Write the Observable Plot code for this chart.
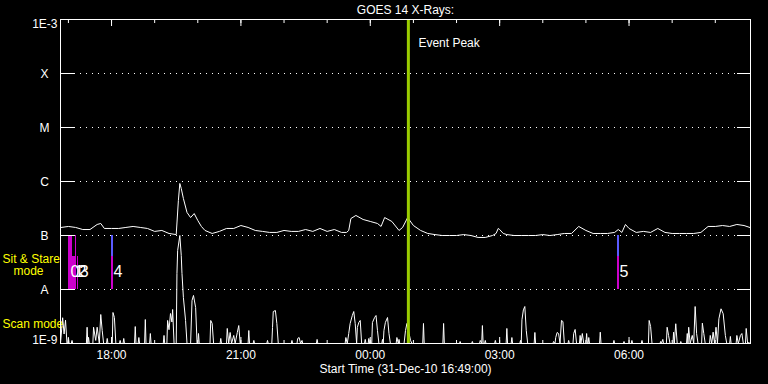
<!DOCTYPE html>
<html><head><meta charset="utf-8">
<script src="https://cdn.jsdelivr.net/npm/d3@7"></script>
<script src="https://cdn.jsdelivr.net/npm/@observablehq/plot@0.6"></script>
<style>
html,body{margin:0;padding:0;background:#000;overflow:hidden;}
</style></head><body><div id="chart"></div>
<script>
const B = 1e-9;
const startTime = "16:49", endTime = "08:49";
const titleText = "GOES 14 X-Rays:";
const captionText = "Start Time (31-Dec-10 16:49:00)";
const xTickLabels = ["18:00","21:00","00:00","03:00","06:00"];
const levelValues = [1e-4, 1e-5, 1e-6, 1e-7, 1e-8];
const levelLabels = ["X","M","C","B","A"];
const endValues = [1e-3, 1e-9];
const endLabels = ["1E-3","1E-9"];
const eventPeak = "00:53";
const eventLabel = "Event Peak";

// GOES long-channel flux [time, W/m^2]
const goesSeries = [
["16:50",1.41e-7],["17:00",1.47e-7],["17:10",1.41e-7],["17:20",1.29e-7],["17:30",1.29e-7],
["17:40",1.60e-7],["17:45",1.67e-7],["17:50",1.35e-7],["18:00",1.35e-7],["18:10",1.35e-7],
["18:20",1.41e-7],["18:30",1.47e-7],["18:40",1.41e-7],["18:50",1.35e-7],["19:00",1.19e-7],
["19:10",1.24e-7],["19:20",1.09e-7],["19:30",1.04e-7],["19:33",4.45e-7],["19:35",9.2e-7],
["19:37",7.41e-7],["19:40",4.84e-7],["19:45",2.67e-7],["19:50",2.15e-7],["19:55",2.55e-7],
["20:00",1.90e-7],["20:05",1.47e-7],["20:10",1.24e-7],["20:20",1.09e-7],["20:30",1.19e-7],
["20:40",1.35e-7],["20:50",1.35e-7],["21:00",1.53e-7],["21:10",1.41e-7],["21:20",1.24e-7],
["21:30",1.19e-7],["21:40",1.14e-7],["21:50",1.14e-7],["22:00",1.24e-7],["22:10",1.19e-7],
["22:20",1.19e-7],["22:30",1.29e-7],["22:40",1.19e-7],["22:50",1.35e-7],["23:00",1.19e-7],
["23:10",1.29e-7],["23:20",1.14e-7],["23:27",1.14e-7],["23:30",1.24e-7],["23:33",2.06e-7],
["23:40",2.35e-7],["23:50",1.98e-7],["00:00",1.82e-7],["00:10",1.67e-7],["00:15",1.47e-7],
["00:20",2.15e-7],["00:30",1.82e-7],["00:40",1.24e-7],["00:45",1.41e-7],["00:52",2.15e-7],
["01:00",1.53e-7],["01:10",1.24e-7],["01:20",1.09e-7],["01:30",1.04e-7],["01:40",1.00e-7],
["01:50",1.00e-7],["02:00",1.00e-7],["02:10",1.04e-7],["02:20",1.00e-7],["02:30",9.2e-8],
["02:40",9.2e-8],["02:50",1.00e-7],["02:55",1.09e-7],["02:58",1.35e-7],["03:00",1.29e-7],
["03:05",1.09e-7],["03:10",1.04e-7],["03:20",1.00e-7],["03:30",1.00e-7],["03:40",1.00e-7],
["03:50",1.00e-7],["04:00",1.04e-7],["04:10",1.00e-7],["04:20",1.04e-7],["04:30",1.09e-7],
["04:40",1.09e-7],["04:50",1.47e-7],["05:00",1.24e-7],["05:10",1.09e-7],["05:20",1.09e-7],
["05:30",1.09e-7],["05:40",1.14e-7],["05:45",1.29e-7],["05:50",1.14e-7],["05:55",1.60e-7],
["06:00",1.35e-7],["06:10",1.14e-7],["06:20",1.19e-7],["06:30",1.14e-7],["06:40",1.35e-7],
["06:50",1.14e-7],["07:00",1.09e-7],["07:10",1.09e-7],["07:20",1.09e-7],["07:30",1.09e-7],
["07:40",1.14e-7],["07:50",1.47e-7],["08:00",1.47e-7],["08:10",1.53e-7],["08:20",1.47e-7],
["08:30",1.60e-7],["08:40",1.53e-7],["08:48",1.41e-7]
];

// Scan mode trace [time, level]
const scanSeries = [
["16:49",B],["16:52",3.0e-9],["16:54",1.5e-9],["16:56",2.7e-9],["16:58",B],
["16:59",B],["17:00",1.3e-9],["17:01",B],["17:04",B],["17:05",1.14e-9],["17:06",B],
["17:25",B],["17:26",2.0e-9],["17:27",B],["17:28",1.3e-9],["17:29",B],
["17:34",B],["17:35",2.0e-9],["17:38",1.14e-9],["17:40",2.0e-9],["17:43",B],["17:45",3.44e-9],["17:47",1.74e-9],["17:49",B],
["17:53",B],["17:54",1.24e-9],["17:55",B],
["18:01",B],["18:02",3.75e-9],["18:04",3.03e-9],["18:06",B],
["18:11",B],["18:12",1.14e-9],["18:13",B],["18:16",B],["18:17",1.24e-9],["18:18",B],
["18:32",B],["18:33",2.06e-9],["18:34",B],["18:37",B],["18:38",1.29e-9],["18:39",B],
["18:46",B],["18:47",2.78e-9],["18:48",B],["18:53",B],["18:54",1.53e-9],["18:55",B],
["19:12",B],["19:13",1.41e-9],["19:14",B],
["19:17",B],["19:18",2.67e-9],["19:20",1.8e-9],["19:22",3.59e-9],["19:24",2.5e-9],["19:25",4.26e-9],["19:27",B],
["19:30",B],["19:31",1.98e-8],["19:32",5.27e-8],["19:35",1.0e-7],["19:37",4.26e-8],["19:38",1.98e-8],["19:40",7.1e-9],["19:43",2.67e-9],["19:45",B],
["19:50",B],["19:52",6.26e-9],["19:54",7.76e-9],["19:57",4.64e-9],["19:59",B],
["20:00",B],["20:01",1.53e-9],["20:02",B],
["20:17",B],["20:18",2.67e-9],["20:20",2.35e-9],["20:22",B],
["20:31",B],["20:32",1.24e-9],["20:33",B],
["20:40",B],["20:41",1.9e-9],["20:43",B],["20:45",1.6e-9],["20:47",B],["20:50",1.41e-9],["20:52",B],["20:55",1.6e-9],["20:57",2.15e-9],["20:59",B],
["21:10",B],["21:11",1.74e-9],["21:12",B],["21:17",B],["21:18",1.14e-9],["21:19",B],
["21:36",B],["21:37",1.14e-9],["21:38",B],
["21:43",B],["21:44",1.98e-9],["21:45",3.91e-9],["21:48",4.08e-9],["21:50",2.35e-9],["21:52",B],
["22:10",B],["22:11",1.14e-9],["22:12",B],
["22:18",B],["22:19",1.24e-9],["22:21",1.29e-9],["22:23",B],["22:25",1.14e-9],["22:26",B],
["22:45",B],["22:46",1.19e-9],["22:47",B],
["23:25",B],["23:26",1.29e-9],["23:28",B],["23:30",1.53e-9],["23:32",2.35e-9],["23:35",3.3e-9],["23:37",3.91e-9],["23:39",2.35e-9],["23:41",B],["23:42",1.98e-9],["23:44",2.45e-9],["23:46",2.67e-9],["23:48",B],
["23:52",B],["23:53",1.19e-9],["23:54",B],["23:57",B],["23:58",1.24e-9],["23:59",B],
["00:02",B],["00:03",2.45e-9],["00:06",3.03e-9],["00:08",3.3e-9],["00:10",1.74e-9],["00:12",B],
["00:16",B],["00:17",1.19e-9],["00:18",B],["00:19",1.74e-9],["00:21",2.45e-9],["00:24",3.03e-9],["00:26",1.53e-9],["00:28",B],
["00:36",B],["00:37",1.29e-9],["00:39",B],["00:40",1.19e-9],["00:41",B],
["00:47",B],["00:49",1.74e-9],["00:51",2.35e-9],["00:54",1.53e-9],["00:56",1.14e-9],["00:58",B],
["01:13",B],["01:14",2.35e-9],["01:15",B],["01:41",B],["01:42",2.35e-9],["01:43",B],
["02:04",B],["02:05",1.09e-9],["02:06",B],["02:21",B],["02:22",1.09e-9],["02:23",B],
["02:32",B],["02:33",1.14e-9],["02:35",B],["02:36",2.15e-9],["02:37",B],["02:39",B],["02:40",1.14e-9],["02:41",B],
["02:53",B],["02:54",1.14e-9],["02:55",B],
["03:09",B],["03:10",1.9e-9],["03:11",B],["03:16",B],["03:17",1.29e-9],["03:18",B],
["03:28",B],["03:29",1.14e-9],["03:30",B],["03:31",2.75e-9],["03:33",4.2e-9],["03:35",4.84e-9],["03:37",1.74e-9],["03:39",B],
["03:48",B],["03:49",1.6e-9],["03:50",B],
["04:14",B],["04:15",1.09e-9],["04:17",B],["04:18",1.29e-9],["04:20",1.6e-9],["04:22",1.53e-9],["04:24",B],["04:26",2.67e-9],["04:28",2.55e-9],["04:30",B],
["04:35",B],["04:36",1.14e-9],["04:37",B],
["04:42",B],["04:43",1.53e-9],["04:45",1.82e-9],["04:47",B],
["04:51",B],["04:52",1.41e-9],["04:53",B],["04:55",1.53e-9],["04:57",B],
["05:00",B],["05:01",1.53e-9],["05:02",B],["05:03",B],["05:04",1.29e-9],["05:05",B],
["05:19",B],["05:20",1.62e-9],["05:21",B],["05:38",B],["05:39",1.14e-9],["05:40",B],
["05:52",B],["05:53",1.09e-9],["05:54",B],["06:03",B],["06:04",1.14e-9],["06:05",B],
["06:17",B],["06:18",1.14e-9],["06:19",B],
["06:27",B],["06:28",2.67e-9],["06:30",2.06e-9],["06:32",B],
["06:43",B],["06:44",1.09e-9],["06:45",B],["06:47",1.19e-9],["06:48",B],
["06:52",B],["06:53",2.0e-9],["06:55",1.41e-9],["06:57",B],
["07:01",B],["07:02",1.62e-9],["07:03",B],["07:05",2.32e-9],["07:07",B],
["07:11",B],["07:12",1.09e-9],["07:13",B],
["07:20",B],["07:21",1.53e-9],["07:22",B],["07:23",2.0e-9],["07:25",B],["07:28",1.41e-9],["07:30",B],["07:32",4.84e-9],["07:34",1.53e-9],["07:36",B],
["07:41",B],["07:42",2.38e-9],["07:44",1.53e-9],["07:46",B],
["07:52",B],["07:53",1.41e-9],["07:55",B],["07:57",1.62e-9],["07:59",B],["08:01",2.0e-9],["08:03",B],["08:05",2.87e-9],["08:08",4.39e-9],["08:11",3.55e-9],["08:14",1.41e-9],["08:16",B],
["08:20",B],["08:21",1.35e-9],["08:22",B],
["08:29",B],["08:30",1.41e-9],["08:32",B],["08:35",1.41e-9],["08:37",1.53e-9],["08:39",B],["08:42",B],["08:43",1.9e-9],["08:45",B],["08:46",1.04e-9],["08:49",B]
];

// Sit & Stare observations
const ssLabel = ["0","1","2","3","4","5"];
const ssStart = ["17:00","17:06","17:10","17:13","18:00","05:44"];
const ssEnd   = ["17:05","17:10","17:11","17:14","18:03","05:47"];
const ssUpperColor = ["#cc00cc", null, "#cc00cc", null, "#5a5aff", "#5a5aff"];
const ssLowerColor = ["#cc00cc","#cc00cc","#cc00cc","#cc00cc","#cc00cc","#cc00cc"];
const ssBandEdges = [1e-8, 4.1e-8, 1e-7];

const parseT = s => {
  const [h, m] = s.split(":").map(Number);
  return h >= 16 ? new Date(Date.UTC(2010, 11, 31, h, m)) : new Date(Date.UTC(2011, 0, 1, h, m));
};

const t0 = parseT(startTime), t1 = parseT(endTime);
const hourTicks = d3.utcHour.range(t0, t1);
const majorTicks = xTickLabels.map(parseT);

const ssRects = [];
ssLabel.forEach((l, i) => {
  ssRects.push({x1: parseT(ssStart[i]), x2: parseT(ssEnd[i]), y1: ssBandEdges[0], y2: ssBandEdges[1], fill: ssLowerColor[i]});
  if (ssUpperColor[i]) ssRects.push({x1: parseT(ssStart[i]), x2: parseT(ssEnd[i]), y1: ssBandEdges[1], y2: ssBandEdges[2], fill: ssUpperColor[i]});
});
const ssLabelLevel = Math.sqrt(ssBandEdges[0] * ssBandEdges[1]);
const ssModeLevel = Math.sqrt(1e-7 * 1e-8);
const scanModeLevel = Math.sqrt(1e-8 * 1e-9);

const font = "'Liberation Sans', Arial, sans-serif";
const fs = 12;

const chart = Plot.plot({
  width: 768, height: 384,
  marginLeft: 60, marginRight: 18, marginTop: 19, marginBottom: 41,
  style: {background: "black", color: "white", fontFamily: font, fontSize: fs + "px"},
  x: {type: "utc", domain: [t0, t1]},
  y: {type: "log", domain: [1e-9, 1e-3]},
  color: {type: "identity"},
  marks: [
    Plot.ruleY(levelValues, {stroke: "white", strokeDasharray: "1,5", insetLeft: 14, insetRight: 14}),
    Plot.rect(ssRects, {x1: "x1", x2: "x2", y1: "y1", y2: "y2", fill: "fill", shapeRendering: "crispEdges"}),
    Plot.line(scanSeries, {x: d => parseT(d[0]), y: d => d[1], stroke: "white", strokeWidth: 1}),
    Plot.line(goesSeries, {x: d => parseT(d[0]), y: d => d[1], stroke: "white", strokeWidth: 1}),
    Plot.ruleX([eventPeak], {x: d => parseT(d), stroke: "#9acc00", strokeWidth: 3}),
    Plot.text([eventLabel], {x: () => parseT(eventPeak), text: d => d, frameAnchor: "top", lineAnchor: "middle", dy: 24, dx: 10, textAnchor: "start", fill: "white", fontSize: fs}),
    Plot.text(ssLabel, {x: (d, i) => parseT(ssStart[i]), y: () => ssLabelLevel, text: d => d, dx: 2, dy: -1, textAnchor: "start", fill: "white", fontSize: 16}),
    // axes ticks
    Plot.axisX(hourTicks, {anchor: "bottom", tickSize: -3, fill: "none", label: null, stroke: "white"}),
    Plot.axisX(hourTicks, {anchor: "top", tickSize: -3, fill: "none", label: null, stroke: "white"}),
    Plot.axisX(majorTicks, {anchor: "bottom", tickSize: -6, fill: "none", label: null, stroke: "white"}),
    Plot.axisX(majorTicks, {anchor: "top", tickSize: -6, fill: "none", label: null, stroke: "white"}),
    Plot.axisY(levelValues, {anchor: "left", tickSize: -14, fill: "none", label: null, stroke: "white"}),
    Plot.axisY(levelValues, {anchor: "right", tickSize: -14, fill: "none", label: null, stroke: "white"}),
    // x labels
    Plot.text(xTickLabels, {x: d => parseT(d), text: d => d, frameAnchor: "bottom", lineAnchor: "middle", dy: 12, fill: "white", fontSize: fs}),
    // y labels
    Plot.text([endLabels[0]], {y: () => endValues[0], text: d => d, frameAnchor: "left", textAnchor: "end", dx: -3, lineAnchor: "top", fill: "white", fontSize: fs}),
    Plot.text([endLabels[1]], {y: () => endValues[1], text: d => d, frameAnchor: "left", textAnchor: "end", dx: -3, lineAnchor: "bottom", fill: "white", fontSize: fs}),
    Plot.text(levelLabels, {y: (d, i) => levelValues[i], text: d => d, frameAnchor: "left", textAnchor: "middle", dx: -16, dy: 1, fill: "white", fontSize: fs}),
    // mode labels
    Plot.text(["Sit & Stare"], {y: () => ssModeLevel, text: d => d, frameAnchor: "left", textAnchor: "start", dx: -58, dy: -3, fill: "#ffff00", fontSize: fs}),
    Plot.text(["mode"], {y: () => ssModeLevel, text: d => d, frameAnchor: "left", textAnchor: "start", dx: -47, dy: 9, fill: "#ffff00", fontSize: fs}),
    Plot.text(["Scan mode"], {y: () => scanModeLevel, text: d => d, frameAnchor: "left", textAnchor: "start", dx: -58, dy: 8, fill: "#ffff00", fontSize: fs}),
    // title & caption
    Plot.text([titleText], {text: d => d, frameAnchor: "top", lineAnchor: "middle", dy: -9, fill: "white", fontSize: fs}),
    Plot.text([captionText], {text: d => d, frameAnchor: "bottom", lineAnchor: "middle", dy: 26, fill: "white", fontSize: fs}),
    Plot.frame({stroke: "white"})
  ]
});
document.getElementById("chart").appendChild(chart);
</script>
</body></html>
